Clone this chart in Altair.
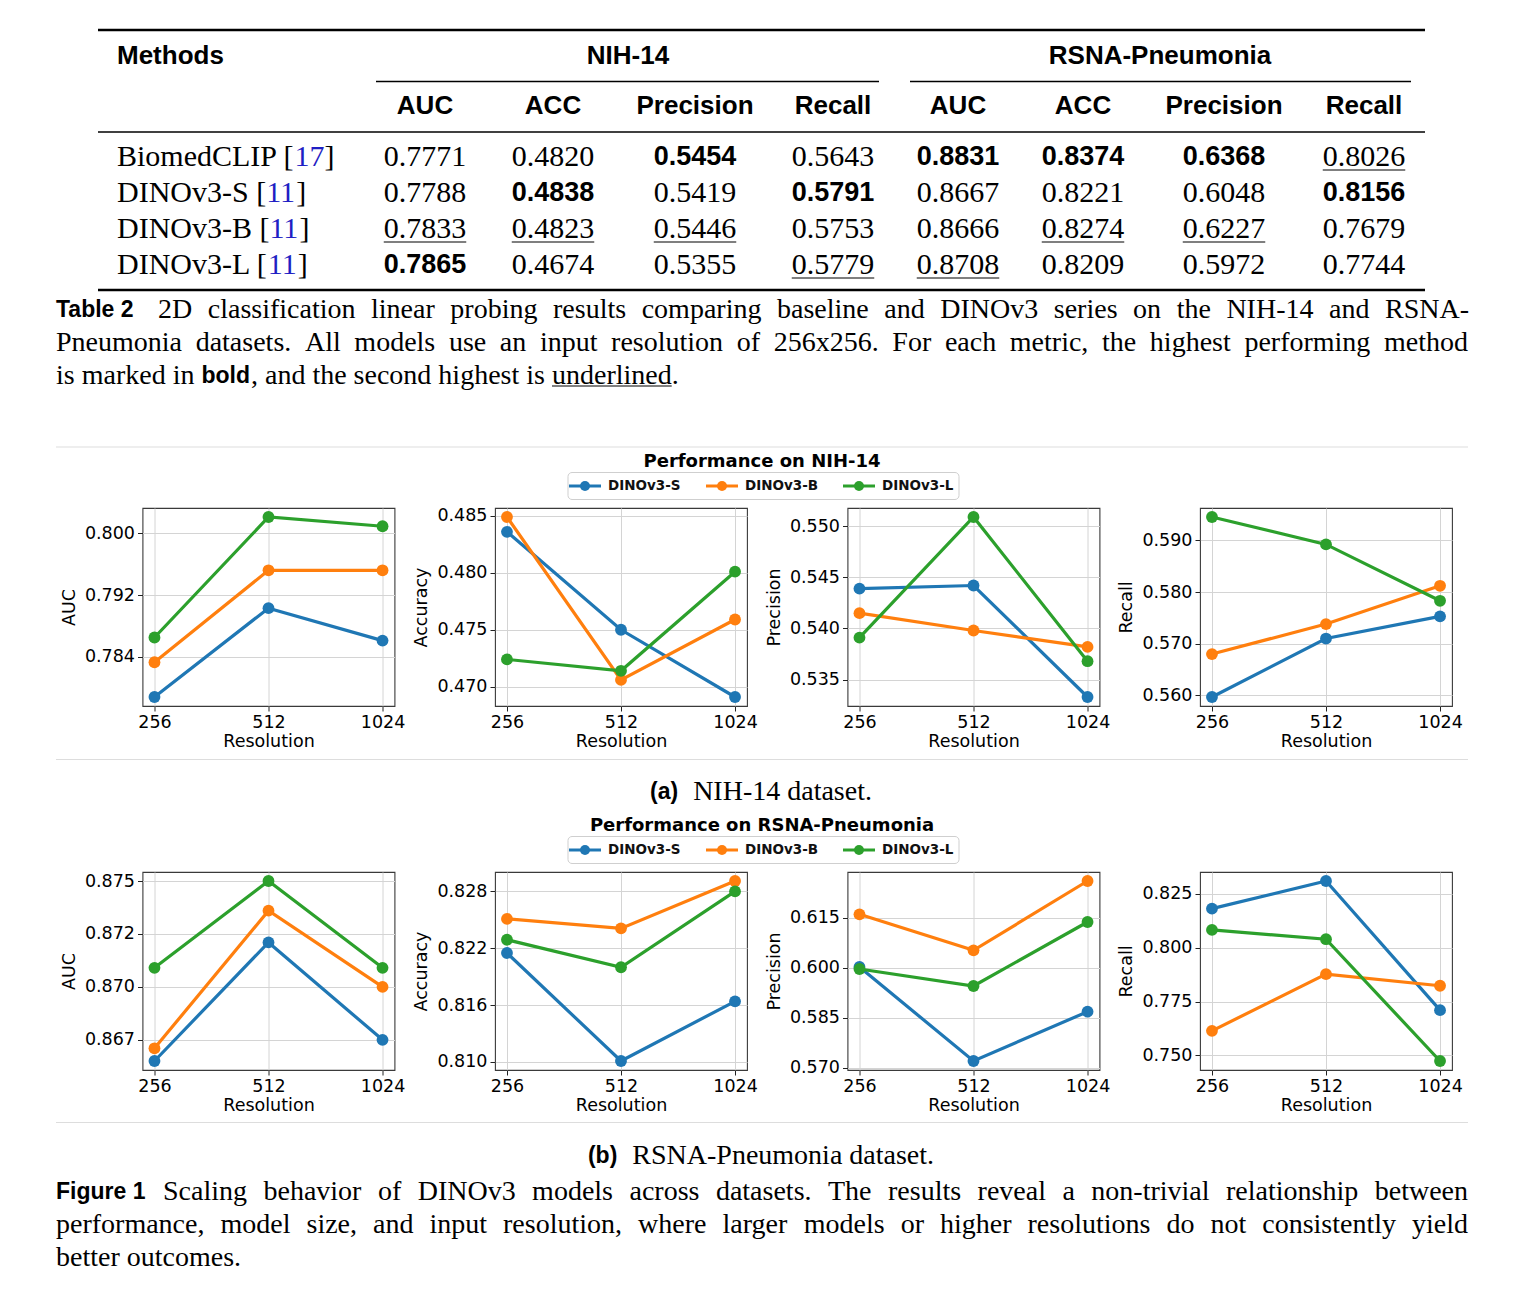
import altair as alt
import pandas as pd

# ---------------- data ----------------
MODELS = ["DINOv3-S", "DINOv3-B", "DINOv3-L"]
COLORS = ["#1f77b4", "#ff7f0e", "#2ca02c"]
RESOLUTIONS = ["256", "512", "1024"]

NIH_AUC = {"DINOv3-S": [0.7788, 0.7903, 0.7861], "DINOv3-B": [0.7833, 0.7952, 0.7952], "DINOv3-L": [0.7865, 0.8021, 0.8009]}
NIH_ACC = {"DINOv3-S": [0.4836, 0.4750, 0.4691], "DINOv3-B": [0.4849, 0.4706, 0.4759], "DINOv3-L": [0.4724, 0.4714, 0.4801]}
NIH_PREC = {"DINOv3-S": [0.5439, 0.5442, 0.5333], "DINOv3-B": [0.5415, 0.5398, 0.5382], "DINOv3-L": [0.5391, 0.5509, 0.5368]}
NIH_REC = {"DINOv3-S": [0.5597, 0.5710, 0.5753], "DINOv3-B": [0.5680, 0.5738, 0.5812], "DINOv3-L": [0.5945, 0.5892, 0.5783]}

RSNA_AUC = {"DINOv3-S": [0.8665, 0.8721, 0.8675], "DINOv3-B": [0.8671, 0.8736, 0.8700], "DINOv3-L": [0.8709, 0.8750, 0.8709]}
RSNA_ACC = {"DINOv3-S": [0.8215, 0.8101, 0.8164], "DINOv3-B": [0.8251, 0.8241, 0.8291], "DINOv3-L": [0.8229, 0.8200, 0.8280]}
RSNA_PREC = {"DINOv3-S": [0.6002, 0.5720, 0.5868], "DINOv3-B": [0.6160, 0.6052, 0.6260], "DINOv3-L": [0.5996, 0.5945, 0.6137]}
RSNA_REC = {"DINOv3-S": [0.8181, 0.8309, 0.7710], "DINOv3-B": [0.7614, 0.7877, 0.7823], "DINOv3-L": [0.8082, 0.8039, 0.7474]}

NIH_TICKS = {"AUC": [0.784, 0.792, 0.800], "ACC": [0.470, 0.475, 0.480, 0.485],
             "PREC": [0.535, 0.540, 0.545, 0.550], "REC": [0.560, 0.570, 0.580, 0.590]}
RSNA_TICKS = {"AUC": [0.8675, 0.8700, 0.8725, 0.8750], "ACC": [0.810, 0.816, 0.822, 0.828],
              "PREC": [0.570, 0.585, 0.600, 0.615], "REC": [0.750, 0.775, 0.800, 0.825]}

TABLE_METHODS = ["BiomedCLIP", "DINOv3-S", "DINOv3-B", "DINOv3-L"]
TABLE_REFS = ["17", "11", "11", "11"]
TABLE_GROUPS = ["NIH-14", "RSNA-Pneumonia"]
TABLE_METRICS = ["AUC", "ACC", "Precision", "Recall"]
TABLE_NIH = [[0.7771, 0.4820, 0.5454, 0.5643],
             [0.7788, 0.4838, 0.5419, 0.5791],
             [0.7833, 0.4823, 0.5446, 0.5753],
             [0.7865, 0.4674, 0.5355, 0.5779]]
TABLE_RSNA = [[0.8831, 0.8374, 0.6368, 0.8026],
              [0.8667, 0.8221, 0.6048, 0.8156],
              [0.8666, 0.8274, 0.6227, 0.7679],
              [0.8708, 0.8209, 0.5972, 0.7744]]

TABLE_CAPTION = [
    "2D classification linear probing results comparing baseline and DINOv3 series on the NIH-14 and RSNA-",
    "Pneumonia datasets. All models use an input resolution of 256x256. For each metric, the highest performing method",
]
FIG_CAPTION = [
    "Scaling behavior of DINOv3 models across datasets. The results reveal a non-trivial relationship between",
    "performance, model size, and input resolution, where larger models or higher resolutions do not consistently yield",
    "better outcomes.",
]

# ---------------- layout / style ----------------
SERIF = "Liberation Serif"
SANS = "Liberation Sans"
PLOT = "DejaVu Sans"
PAGE = 8          # page margin
TOP1 = 507        # page y of the first panel row's plot top
PW, PH = 252, 198
COLSP, ROWSP = 100.5, 166
SPW = 141 - PAGE - COLSP  # spacer column width so the first panel starts at page x=141

_UP = dict(zip("ABCDEFGHIJKLMNOPQRSTUVWXYZ",
               [722, 667, 667, 722, 611, 556, 722, 722, 333, 389, 722, 611, 889, 722, 722, 556, 722, 667, 556, 611, 722, 722, 944, 722, 722, 611]))
_LO = dict(zip("abcdefghijklmnopqrstuvwxyz",
               [444, 500, 444, 500, 444, 333, 500, 500, 278, 278, 500, 278, 778, 500, 500, 500, 500, 333, 389, 278, 500, 500, 722, 500, 500, 444]))
SERIF_W = {**_UP, **_LO, **{d: 500 for d in "0123456789"},
           " ": 250, ",": 250, ".": 250, "-": 333, "[": 333, "]": 333, "(": 333, ")": 333}
SANSB_W = {"(": 333, ")": 333, "a": 556, "b": 611, "o": 611, "l": 278, "d": 611}


def tw(s, size, table=SERIF_W):
    return sum(table.get(ch, 500) for ch in s) * size / 1000.0


def justified(line, x0, x1, y, size):
    words = line.split(" ")
    ws = [tw(w, size) for w in words]
    gap = (x1 - x0 - sum(ws)) / (len(words) - 1)
    gap = max(gap, tw(" ", size) * 0.6)
    out, x = [], x0
    for w, wd in zip(words, ws):
        out.append((x, y, w))
        x += wd + gap
    return out


def txt(items, font, size, weight="normal", color="#000", align="left"):
    df = pd.DataFrame([(x - PAGE, y - TOP1, t) for x, y, t in items], columns=["x", "y", "t"])
    return alt.Chart(df).mark_text(font=font, fontSize=size, fontWeight=weight, color=color,
                                   align=align, baseline="middle").encode(
        x=alt.X("x:Q", scale=None, axis=None), y=alt.Y("y:Q", scale=None, axis=None), text="t:N")


def rules(items, width, color="#000"):
    df = pd.DataFrame([(a - PAGE, b - PAGE, y - TOP1) for a, b, y in items], columns=["x", "x2", "y"])
    return alt.Chart(df).mark_rule(color=color, strokeWidth=width).encode(
        x=alt.X("x:Q", scale=None, axis=None), x2="x2:Q", y=alt.Y("y:Q", scale=None, axis=None))


COLOR = alt.Color("model:N", scale=alt.Scale(domain=MODELS, range=COLORS), legend=None)


def legend(yc_page):
    yc = yc_page - TOP1
    box = alt.Chart(pd.DataFrame({"a": [0]})).mark_rect(
        fill="white", stroke="#cfcfcf", strokeWidth=1, cornerRadius=4).encode(
        x=alt.value(567 - PAGE), x2=alt.value(958 - PAGE), y=alt.value(yc - 13.5), y2=alt.value(yc + 13.5))
    lx = alt.X("model:N", scale=alt.Scale(type="point", domain=MODELS, range=[584 - PAGE, 858 - PAGE], padding=0), axis=None)
    base = alt.Chart(pd.DataFrame({"model": MODELS}))
    seg = base.mark_point(shape="M-1,0L1,0", size=1024, filled=False, strokeWidth=3, opacity=1).encode(
        x=lx, y=alt.value(yc), color=COLOR)
    dot = base.mark_circle(size=100, opacity=1).encode(x=lx, y=alt.value(yc), color=COLOR)
    lab = base.mark_text(align="left", baseline="middle", dx=23, font=PLOT, fontSize=13.5,
                         fontWeight="bold", color="#111").encode(x=lx, y=alt.value(yc), text="model:N")
    return [box, seg, dot, lab]


# ---------------- table ----------------
COL_X = [424, 552, 694, 832, 957, 1082, 1223, 1363]
ROW_Y = [156, 192, 228, 264]
TBL = 30

cells_norm, cells_bold, unders = [], [], []
for g, table in enumerate([TABLE_NIH, TABLE_RSNA]):
    for j in range(4):
        col = [row[j] for row in table]
        order = sorted(range(len(col)), key=lambda i: -col[i])
        cx = COL_X[g * 4 + j]
        for i, v in enumerate(col):
            s = f"{v:.4f}"
            if i == order[0]:
                cells_bold.append((cx, ROW_Y[i], s))
            else:
                cells_norm.append((cx, ROW_Y[i], s))
                if i == order[1]:
                    w = tw(s, TBL)
                    unders.append((cx - w / 2, cx + w / 2, ROW_Y[i] + 13))

meth_black, meth_blue, meth_close = [], [], []
for i, (name, ref) in enumerate(zip(TABLE_METHODS, TABLE_REFS)):
    x = 116
    meth_black.append((x, ROW_Y[i], name + " ["))
    xb = x + tw(name + " [", TBL)
    meth_blue.append((xb, ROW_Y[i], ref))
    meth_close.append((xb + tw(ref, TBL), ROW_Y[i], "]"))

# ---------------- captions ----------------
CAP = 28
SUB = 23
cap_words = justified(TABLE_CAPTION[0], 157, 1468, 309, CAP) + justified(TABLE_CAPTION[1], 55, 1467, 342, CAP)
l3a = "is marked in "
x_bold = 55 + tw(l3a, CAP)
x_rest = x_bold + tw("bold", SUB, SANSB_W) + 1
l3b = ", and the second highest is "
x_und = x_rest + tw(l3b, CAP)
w_und = tw("underlined", CAP)
cap_words += [(55, 375, l3a), (x_rest, 375, l3b), (x_und, 375, "underlined"), (x_und + w_und, 375, ".")]

a_text = "NIH-14 dataset."
a_x = 760 - (tw("(a)", SUB, SANSB_W) + 15 + tw(a_text, CAP)) / 2
b_text = "RSNA-Pneumonia dataset."
b_x = 760 - (tw("(b)", SUB, SANSB_W) + 15 + tw(b_text, CAP)) / 2
fig_words = justified(FIG_CAPTION[0], 162, 1467, 1191, CAP) + justified(FIG_CAPTION[1], 55, 1467, 1224, CAP)
fig_words += [(55, 1257, FIG_CAPTION[2])]

# anchor: white dot at page (8, 8) fixes the chart origin
anchor = alt.Chart(pd.DataFrame({"a": [0]})).mark_rect(fill="white", strokeWidth=0).encode(
    x=alt.value(0), x2=alt.value(2), y=alt.value(PAGE - TOP1), y2=alt.value(PAGE - TOP1 + 2))

text_layers = [
    anchor,
    rules([(97, 1424, 29), (97, 1424, 289)], 2.6),
    rules([(375, 878, 80.5), (909, 1410, 80.5)], 1.3),
    rules([(97, 1424, 131)], 1.5),
    rules(unders + [(x_und, x_und + w_und, 385)], 1.1),
    txt([(116, 55, "Methods")], SANS, 26, "bold"),
    txt([(627, 55, TABLE_GROUPS[0]), (1159, 55, TABLE_GROUPS[1])], SANS, 26, "bold", align="center"),
    txt([(COL_X[k], 105, TABLE_METRICS[k % 4]) for k in range(8)], SANS, 26, "bold", align="center"),
    txt(cells_norm, SERIF, TBL, align="center"),
    txt(cells_bold, SANS, 27, "bold", align="center"),
    txt(meth_black + meth_close, SERIF, TBL),
    txt(meth_blue, SERIF, TBL, color="#1f1fc4"),
    txt([(55, 309, "Table 2"), (x_bold, 375, "bold"), (a_x, 791, "(a)"),
         (b_x, 1155, "(b)"), (55, 1191, "Figure 1")], SANS, SUB, "bold"),
    txt(cap_words + fig_words
        + [(a_x + tw("(a)", SUB, SANSB_W) + 15, 791, a_text),
           (b_x + tw("(b)", SUB, SANSB_W) + 15, 1155, b_text)], SERIF, CAP),
    rules([(55, 1467, 446), (55, 1467, 758.5), (55, 1467, 1121.5)], 1.2, "#dddddd"),
    txt([(761, 461, "Performance on NIH-14"), (761, 825, "Performance on RSNA-Pneumonia")],
        PLOT, 18, "bold", align="center"),
] + legend(485) + legend(849)

spacer1 = alt.layer(*text_layers).properties(width=SPW, height=PH, view=alt.ViewBackground(stroke="transparent"))
spacer2 = alt.Chart(pd.DataFrame({"a": [0]})).mark_rule(opacity=0).encode(
    x=alt.value(10), y=alt.value(50), y2=alt.value(60)).properties(
    width=SPW, height=PH, view=alt.ViewBackground(stroke="transparent"))


# ---------------- panels ----------------
def panel(series, ticks, ytitle):
    rows = [(m, r, v) for m in MODELS for r, v in zip(RESOLUTIONS, series[m])]
    df = pd.DataFrame(rows, columns=["model", "res", "value"])
    lo, hi = float(df["value"].min()), float(df["value"].max())
    mg = 0.05 * (hi - lo)
    x = alt.X("res:O", sort=RESOLUTIONS, scale=alt.Scale(type="point", padding=0.105),
              axis=alt.Axis(title="Resolution", labelAngle=0))
    y = alt.Y("value:Q", scale=alt.Scale(domain=[lo - mg, hi + mg], nice=False, zero=False),
              axis=alt.Axis(title=ytitle, values=ticks,
                            labelExpr="format(floor(datum.value*1000+0.0001)/1000, '.3f')"))
    layers = []
    for mod in MODELS:
        b = alt.Chart(df).transform_filter(alt.datum.model == mod).encode(x=x, y=y, color=COLOR)
        layers.append(b.mark_line(strokeWidth=3.2))
        layers.append(b.mark_circle(size=140, opacity=1))
    return alt.layer(*layers).properties(width=PW, height=PH)


cells = [
    spacer1,
    panel(NIH_AUC, NIH_TICKS["AUC"], "AUC"),
    panel(NIH_ACC, NIH_TICKS["ACC"], "Accuracy"),
    panel(NIH_PREC, NIH_TICKS["PREC"], "Precision"),
    panel(NIH_REC, NIH_TICKS["REC"], "Recall"),
    spacer2,
    panel(RSNA_AUC, RSNA_TICKS["AUC"], "AUC"),
    panel(RSNA_ACC, RSNA_TICKS["ACC"], "Accuracy"),
    panel(RSNA_PREC, RSNA_TICKS["PREC"], "Precision"),
    panel(RSNA_REC, RSNA_TICKS["REC"], "Recall"),
]

chart = alt.concat(*cells, columns=5, spacing=alt.RowColnumber(row=ROWSP, column=COLSP),
                   bounds="flush", align="each", padding=0, background="white")
chart = chart.configure_view(stroke="#3a3a3a", strokeWidth=1.1).configure_axis(
    labelFont=PLOT, labelFontSize=17.5, labelColor="#000", titleFont=PLOT, titleFontSize=17.5,
    titleFontWeight="normal", titleColor="#000", tickColor="#222", tickSize=5, tickWidth=1,
    domain=False, grid=True, gridColor="#d4d4d4", gridWidth=1,
).configure_axisX(labelPadding=2, titlePadding=2).configure_axisY(labelPadding=3, titlePadding=6)

chart.save("out.html", embed_options={"renderer": "svg", "actions": False})
